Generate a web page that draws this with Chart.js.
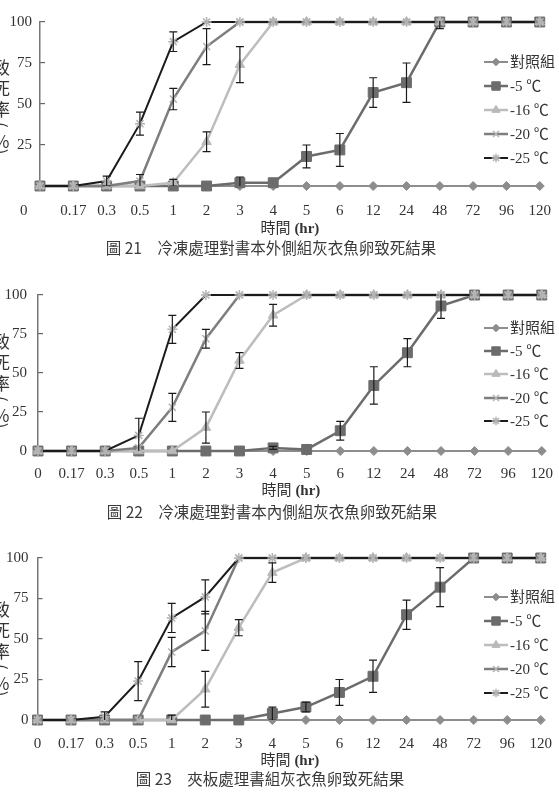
<!DOCTYPE html>
<html>
<head>
<meta charset="utf-8">
<script src="https://cdn.jsdelivr.net/npm/chart.js@4.4.1/dist/chart.umd.min.js"></script>
<style>
  body { margin: 0; background: #fff; width: 559px; height: 795px; position: relative; overflow: hidden;
         font-family: 'Liberation Serif', 'Noto Sans CJK TC', serif; color: #333; }
  canvas.plot { position: absolute; left: 0; }
  .ytitle { position: absolute; left: -7px; writing-mode: vertical-rl; font-family: 'Noto Sans CJK TC', sans-serif;
            font-size: 17px; letter-spacing: 4px; line-height: 17px; color: #333; }
  .xtitle { position: absolute; width: 120px; text-align: center; font-size: 15px; line-height: 20px; color: #333; }
  .xtitle b { font-family: 'Liberation Serif', serif; }
  .caption { position: absolute; width: 559px; text-align: center; font-family: 'Noto Sans CJK TC', sans-serif;
             font-size: 15.5px; line-height: 20px; color: #3a3a3a; }
  .legend { position: absolute; left: 484px; font-size: 15px; color: #333; }
  .legend div { height: 24px; line-height: 24px; display: flex; align-items: center; }
  .legend canvas { margin-right: 2px; }
  .zero { position: absolute; font-size: 15px; line-height: 20px; color: #333; }
</style>
</head>
<body>
<canvas id="fig21" class="plot" width="559" height="220" style="top:0px"></canvas>
<canvas id="fig22" class="plot" width="559" height="215" style="top:270px"></canvas>
<canvas id="fig23" class="plot" width="559" height="220" style="top:535px"></canvas>
<script>
// time points (hr) and series names
const timeLabels = ['0', '0.17', '0.3', '0.5', '1', '2', '3', '4', '5', '6', '12', '24', '48', '72', '96', '120'];
const seriesNames = ['對照組', '-5 ℃', '-16 ℃', '-20 ℃', '-25 ℃'];
const yTicks = [0, 25, 50, 75, 100];

// 圖21 書本外側
const fig21Control = [0, 0, 0, 0, 0, 0, 0, 0, 0, 0, 0, 0, 0, 0, 0, 0];
const fig21M5 = [0, 0, 0, 0, 0, 0, 2, 2, 18, 22, 57, 63, 100, 100, 100, 100];
const fig21M5Err = [0, 0, 0, 0, 0, 0, 3.5, 0, 7, 10, 9, 12, 4, 0, 0, 0];
const fig21M16 = [0, 0, 0, 0, 2, 27, 74, 100, 100, 100, 100, 100, 100, 100, 100, 100];
const fig21M16Err = [0, 0, 0, 0, 2, 6, 11, 0, 0, 0, 0, 0, 0, 0, 0, 0];
const fig21M20 = [0, 0, 0, 3, 53, 85, 100, 100, 100, 100, 100, 100, 100, 100, 100, 100];
const fig21M20Err = [0, 0, 0, 4, 6.5, 11, 0, 0, 0, 0, 0, 0, 0, 0, 0, 0];
const fig21M25 = [0, 0, 3, 38, 88, 100, 100, 100, 100, 100, 100, 100, 100, 100, 100, 100];
const fig21M25Err = [0, 0, 3, 7, 6, 0, 0, 0, 0, 0, 0, 0, 0, 0, 0, 0];

// 圖22 書本內側
const fig22Control = [0, 0, 0, 0, 0, 0, 0, 0, 0, 0, 0, 0, 0, 0, 0, 0];
const fig22M5 = [0, 0, 0, 0, 0, 0, 0, 2, 1, 13, 42, 63, 93, 100, 100, 100];
const fig22M5Err = [0, 0, 0, 0, 0, 0, 0, 1, 0, 6, 12, 9, 8, 0, 0, 0];
const fig22M16 = [0, 0, 0, 0, 0, 15, 58, 87, 100, 100, 100, 100, 100, 100, 100, 100];
const fig22M16Err = [0, 0, 0, 0, 0, 10, 5, 7, 0, 0, 0, 0, 0, 0, 0, 0];
const fig22M20 = [0, 0, 0, 2, 28, 72, 100, 100, 100, 100, 100, 100, 100, 100, 100, 100];
const fig22M20Err = [0, 0, 0, 0, 9, 6, 0, 0, 0, 0, 0, 0, 0, 0, 0, 0];
const fig22M25 = [0, 0, 0, 10, 78, 100, 100, 100, 100, 100, 100, 100, 100, 100, 100, 100];
const fig22M25Err = [0, 0, 0, 11, 9, 0, 0, 0, 0, 0, 0, 0, 0, 0, 0, 0];

// 圖23 夾板處理
const fig23Control = [0, 0, 0, 0, 0, 0, 0, 0, 0, 0, 0, 0, 0, 0, 0, 0];
const fig23M5 = [0, 0, 0, 0, 0, 0, 0, 4, 8, 17, 27, 65, 82, 100, 100, 100];
const fig23M5Err = [0, 0, 0, 0, 0, 0, 0, 4, 3, 8, 10, 9, 12, 0, 0, 0];
const fig23M16 = [0, 0, 0, 0, 0, 19, 57, 91, 100, 100, 100, 100, 100, 100, 100, 100];
const fig23M16Err = [0, 0, 0, 0, 3, 11, 5, 6, 0, 0, 0, 0, 0, 0, 0, 0];
const fig23M20 = [0, 0, 0, 0, 42, 55, 100, 100, 100, 100, 100, 100, 100, 100, 100, 100];
const fig23M20Err = [0, 0, 0, 0, 9, 12, 0, 0, 0, 0, 0, 0, 0, 0, 0, 0];
const fig23M25 = [0, 0, 2, 24, 63, 76, 100, 100, 100, 100, 100, 100, 100, 100, 100, 100];
const fig23M25Err = [0, 0, 3, 12, 9, 10.5, 0, 0, 0, 0, 0, 0, 0, 0, 0, 0];

// styles per series
const lineColors = ['#8d8d8d', '#6c6c6c', '#bdbdbd', '#7e7e7e', '#1b1b1b'];
const pointColors = ['#8d8d8d', '#6c6c6c', '#b9b9b9', '#b3b3b3', '#b3b3b3'];
const pointStyles = ['rectRot', 'rect', 'triangle', 'crossRot', 'star'];
const pointSizes = [4.5, 7, 5.5, 5, 5];
const lineWidths = [2, 2.5, 2.5, 2.5, 2];

// error bars drawn from the scales
const errorBars = {
    id: 'errorBars',
    afterDatasetsDraw(chart) {
        const ctx = chart.ctx;
        const area = chart.chartArea;
        const xs = chart.scales.x, ys = chart.scales.y;
        ctx.save();
        ctx.beginPath();
        ctx.rect(area.left, area.top - 1, area.right - area.left, area.bottom - area.top + 1);
        ctx.clip();
        ctx.strokeStyle = '#1a1a1a';
        ctx.lineWidth = 1.2;
        chart.data.datasets.forEach((ds) => {
            if (!ds.errors) return;
            ds.data.forEach((v, i) => {
                const e = ds.errors[i];
                if (!e) return;
                const px = xs.getPixelForValue(i);
                const top = ys.getPixelForValue(v + e);
                const bot = ys.getPixelForValue(v - e);
                ctx.beginPath();
                ctx.moveTo(px, top); ctx.lineTo(px, bot);
                ctx.moveTo(px - 4, top); ctx.lineTo(px + 4, top);
                ctx.moveTo(px - 4, bot); ctx.lineTo(px + 4, bot);
                ctx.stroke();
            });
        });
        ctx.restore();
    }
};

function makeFigure(cfg) {
    var datasets = cfg.series.map((data, i) => ({
        label: seriesNames[i],
        data: data,
        errors: cfg.errors[i],
        borderColor: lineColors[i],
        borderWidth: lineWidths[i],
        pointStyle: pointStyles[i],
        pointRadius: pointSizes[i],
        pointBackgroundColor: pointColors[i],
        pointBorderColor: pointColors[i],
        pointBorderWidth: (i >= 3) ? 1.5 : 1,
        tension: 0,
        clip: false,
        order: 5 - i,
    }));

    new Chart(document.getElementById(cfg.id), {
        type: 'line',
        data: { labels: timeLabels, datasets: datasets },
        plugins: [errorBars],
        options: {
            responsive: false,
            animation: false,
            layout: { padding: { top: cfg.padTop, right: cfg.padRight, left: 0, bottom: 0 } },
            plugins: { legend: { display: false }, tooltip: { enabled: false } },
            scales: {
                x: {
                    type: 'category',
                    offset: false,
                    grid: { display: false },
                    border: { color: '#777', width: 1.5 },
                    ticks: {
                        autoSkip: false, maxRotation: 0, padding: cfg.xPad, color: '#333',
                        font: { family: 'Liberation Serif', size: 15 },
                        callback: (v, i) => (cfg.hideFirstX && i === 0) ? '' : timeLabels[i],
                    },
                    afterFit: (s) => { s.height = cfg.xHeight; },
                },
                y: {
                    min: 0, max: 100,
                    afterBuildTicks: (s) => { s.ticks = yTicks.map((v) => ({ value: v })); },
                    grid: { drawOnChartArea: false, drawTicks: true, tickLength: -5, color: '#666', lineWidth: 1.2 },
                    border: { color: '#777', width: 1.5 },
                    ticks: {
                        padding: cfg.yPad, color: '#333',
                        font: { family: 'Liberation Serif', size: 15 },
                        callback: (v) => (cfg.hideZeroY && v === 0) ? '' : v,
                    },
                    afterFit: (s) => { s.width = cfg.yWidth; },
                },
            },
        },
    });

    // y title, x title, caption, legend
    var yt = document.createElement('div');
    yt.className = 'ytitle';
    yt.style.top = cfg.yTitleTop + 'px';
    yt.innerHTML = '致死率(<span style="text-combine-upright:all">%</span>)';
    document.body.appendChild(yt);

    var xt = document.createElement('div');
    xt.className = 'xtitle';
    xt.style.left = (cfg.xTitleX - 60) + 'px';
    xt.style.top = (cfg.xTitleY - 10) + 'px';
    xt.innerHTML = '時間 <b>(hr)</b>';
    document.body.appendChild(xt);

    var cap = document.createElement('div');
    cap.className = 'caption';
    cap.style.left = (cfg.captionX - 279.5) + 'px';
    cap.style.top = (cfg.captionY - 10) + 'px';
    cap.textContent = cfg.caption;
    document.body.appendChild(cap);

    var lg = document.createElement('div');
    lg.className = 'legend';
    lg.style.top = (cfg.legendTop - 12) + 'px';
    seriesNames.forEach((name, i) => {
        var row = document.createElement('div');
        row.style.height = cfg.legendStep + 'px';
        var c = document.createElement('canvas');
        c.width = 24; c.height = 16;
        var ctx = c.getContext('2d');
        ctx.strokeStyle = lineColors[i];
        ctx.lineWidth = lineWidths[i];
        ctx.beginPath(); ctx.moveTo(0, 8); ctx.lineTo(24, 8); ctx.stroke();
        ctx.fillStyle = pointColors[i];
        ctx.strokeStyle = pointColors[i];
        ctx.lineWidth = (i >= 3) ? 1.5 : 1;
        Chart.helpers.drawPoint(ctx, { pointStyle: pointStyles[i], radius: pointSizes[i] * 0.85, rotation: 0, borderWidth: ctx.lineWidth }, 12, 8);
        row.appendChild(c);
        var t = document.createElement('span');
        t.textContent = name;
        row.appendChild(t);
        lg.appendChild(row);
    });
    document.body.appendChild(lg);
}

makeFigure({
    id: 'fig21', padTop: 20, padRight: 19, yWidth: 40, xHeight: 34, xPad: 8, yPad: 13,
    hideZeroY: true, hideFirstX: true,
    series: [fig21Control, fig21M5, fig21M16, fig21M20, fig21M25],
    errors: [null, fig21M5Err, fig21M16Err, fig21M20Err, fig21M25Err],
    yTitleTop: 59, xTitleX: 290, xTitleY: 228, captionX: 271, captionY: 247,
    caption: '圖 21　冷凍處理對書本外側組灰衣魚卵致死結果', legendTop: 62, legendStep: 24,
});
makeFigure({
    id: 'fig22', padTop: 20.5, padRight: 15, yWidth: 38, xHeight: 34, xPad: 6, yPad: 16,
    hideZeroY: false, hideFirstX: false,
    series: [fig22Control, fig22M5, fig22M16, fig22M20, fig22M25],
    errors: [null, fig22M5Err, fig22M16Err, fig22M20Err, fig22M25Err],
    yTitleTop: 333, xTitleX: 291, xTitleY: 490, captionX: 272, captionY: 511,
    caption: '圖 22　冷凍處理對書本內側組灰衣魚卵致死結果', legendTop: 328, legendStep: 23.3,
});
makeFigure({
    id: 'fig23', padTop: 20, padRight: 16, yWidth: 37.5, xHeight: 35, xPad: 7, yPad: 14,
    hideZeroY: false, hideFirstX: false,
    series: [fig23Control, fig23M5, fig23M16, fig23M20, fig23M25],
    errors: [null, fig23M5Err, fig23M16Err, fig23M20Err, fig23M25Err],
    yTitleTop: 601, xTitleX: 290, xTitleY: 760, captionX: 270, captionY: 778,
    caption: '圖 23　夾板處理書組灰衣魚卵致死結果', legendTop: 597, legendStep: 24,
});
</script>
<div class="zero" style="left:20px;top:200px">0</div>
</body>
</html>
